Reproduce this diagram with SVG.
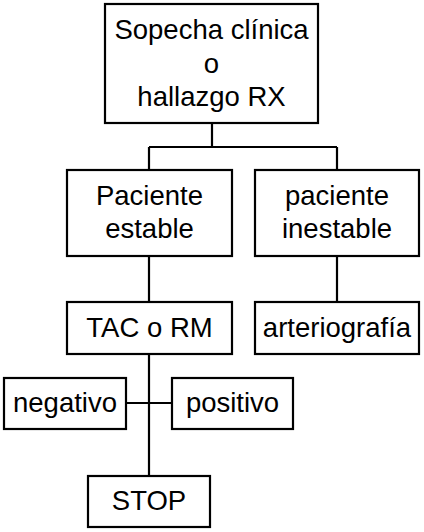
<svg xmlns="http://www.w3.org/2000/svg" width="424" height="532" viewBox="0 0 424 532">
<style>
  .box { fill: #ffffff; stroke: #000000; stroke-width: 2.2; }
  .lbl { font-family: "Liberation Sans", Arial, sans-serif; font-size: 27.5px; fill: #000000; text-anchor: middle; }
  .conn { fill: none; stroke: #000000; stroke-width: 2.2; }
</style>
<rect x="0" y="0" width="424" height="532" fill="#ffffff"/>
<g id="connectors">
  <path class="conn" d="M212,123 V147 M149,147 H337 M149,147 V170 M337,147 V170"/>
  <path class="conn" d="M149,256 V302 M337,256 V302"/>
  <path class="conn" d="M149,354 V476 M126,403 H172"/>
</g>
<g id="n-sospecha">
  <rect class="box" x="105" y="4" width="213" height="119"/>
  <text class="lbl" x="211.5" y="39">Sopecha clínica</text>
  <text class="lbl" x="211.5" y="72.5">o</text>
  <text class="lbl" x="211.5" y="106">hallazgo RX</text>
</g>
<g id="n-estable">
  <rect class="box" x="67" y="170" width="165" height="86"/>
  <text class="lbl" x="149.5" y="205">Paciente</text>
  <text class="lbl" x="149.5" y="238">estable</text>
</g>
<g id="n-inestable">
  <rect class="box" x="255" y="170" width="164" height="86"/>
  <text class="lbl" x="337" y="205">paciente</text>
  <text class="lbl" x="337" y="238">inestable</text>
</g>
<g id="n-tac">
  <rect class="box" x="67" y="302" width="165" height="52"/>
  <text class="lbl" x="149.5" y="337">TAC o RM</text>
</g>
<g id="n-arterio">
  <rect class="box" x="255" y="302" width="164" height="52"/>
  <text class="lbl" x="337" y="337">arteriografía</text>
</g>
<g id="n-negativo">
  <rect class="box" x="4" y="378" width="122" height="51"/>
  <text class="lbl" x="65" y="412">negativo</text>
</g>
<g id="n-positivo">
  <rect class="box" x="172" y="378" width="121" height="51"/>
  <text class="lbl" x="232.5" y="412">positivo</text>
</g>
<g id="n-stop">
  <rect class="box" x="88" y="476" width="122" height="51"/>
  <text class="lbl" x="149" y="510">STOP</text>
</g>
</svg>
